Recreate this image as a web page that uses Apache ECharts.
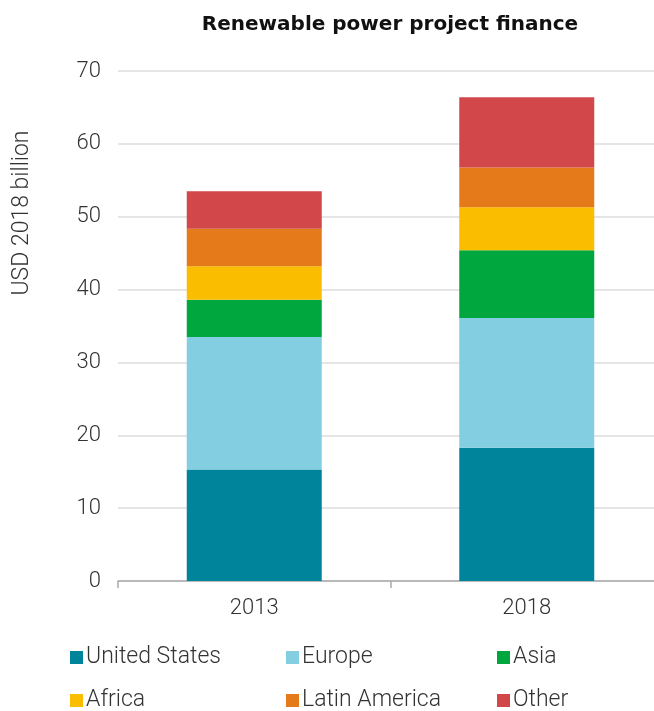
<!DOCTYPE html>
<html>
<head>
<meta charset="utf-8">
<script src="https://cdn.jsdelivr.net/npm/echarts@6/dist/echarts.min.js"></script>
<style>
  html, body { margin: 0; padding: 0; background: #fff; }
  #chart { width: 654px; height: 711px; }
</style>
</head>
<body>
<div id="chart"></div>
<script>
// data
const years = ["2013", "2018"];
const regions = ["United States", "Europe", "Asia", "Africa", "Latin America", "Other"];
const unitedStates = [15.3, 18.3];
const europe = [18.2, 17.8];
const asia = [5.1, 9.3];
const africa = [4.6, 5.9];
const latinAmerica = [5.15, 5.45];
const other = [5.15, 9.65];
const yTicks = [0, 10, 20, 30, 40, 50, 60, 70];

const colors = ["#00849b", "#83cfe1", "#00a63e", "#fbbd00", "#e57a1b", "#d1474a"];
const values = [unitedStates, europe, asia, africa, latinAmerica, other];

// legend laid out as 3 columns x 2 rows
const legendCols = [70, 286, 497, 70, 286, 497];
const legendRows = [646, 646, 646, 689, 689, 689];

const chart = echarts.init(document.getElementById("chart"));

const option = {
  animation: false,
  color: colors,
  title: {
    text: "Renewable power project finance",
    left: 385,
    textAlign: "center",
    top: 10,
    textStyle: { fontSize: 20, fontWeight: "bold", color: "#111", fontFamily: "DejaVu Sans" }
  },
  graphic: [{
    type: "text",
    x: 22,
    y: 213,
    rotation: Math.PI / 2,
    style: {
      text: "USD 2018 billion",
      fontSize: 23,
      fontFamily: "Roboto",
      fontWeight: 300,
      fill: "#333",
      align: "center",
      verticalAlign: "middle"
    }
  }],
  legend: regions.map((name, i) => ({
    data: [name],
    left: legendCols[i],
    top: legendRows[i],
    padding: 0,
    icon: "rect",
    itemWidth: 13,
    itemHeight: 13,
    textStyle: { fontSize: 23, color: "#333", fontFamily: "Roboto", fontWeight: 300, padding: [0, 0, 0, -2] }
  })),
  grid: { left: 118, width: 545, top: 71, bottom: 130, outerBoundsMode: "none" },
  xAxis: {
    type: "category",
    data: years,
    axisLine: { lineStyle: { color: "#aaa", width: 1.5 } },
    axisTick: { show: true, length: 7, lineStyle: { color: "#aaa", width: 1.5 } },
    axisLabel: { fontSize: 22, color: "#333", fontFamily: "Roboto", fontWeight: 300, margin: 16 }
  },
  yAxis: {
    type: "value",
    min: yTicks[0],
    max: yTicks[yTicks.length - 1],
    interval: 10,
    axisLine: { show: false },
    axisTick: { show: false },
    splitLine: { lineStyle: { color: "#dcdcdc", width: 1.5 } },
    axisLabel: { fontSize: 22, color: "#333", fontFamily: "Roboto", fontWeight: 300, margin: 17 }
  },
  series: regions.map((name, i) => ({
    name: name,
    type: "bar",
    stack: "total",
    barWidth: 135,
    data: values[i],
    itemStyle: { color: colors[i] }
  }))
};

chart.setOption(option);
</script>
</body>
</html>
